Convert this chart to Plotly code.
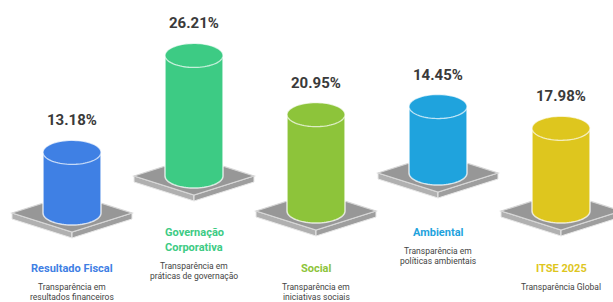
import numpy as np
import plotly.graph_objects as go

# ---- data ----
categories = ["Resultado Fiscal", "Governação|Corporativa", "Social", "Ambiental", "ITSE 2025"]
values = [13.18, 26.21, 20.95, 14.45, 17.98]
subtitles = [
    "Transparência em|resultados financeiros",
    "Transparência em|práticas de governação",
    "Transparência em|iniciativas sociais",
    "Transparência em|políticas ambientais",
    "Transparência Global",
]
colors = ["#3F80E4", "#3DCB84", "#8DC43A", "#1FA3DD", "#DEC61E"]

# ---- layout (positions only) ----
W, H = 613, 302
cx_list = [72, 194, 316, 438, 561]
base_list = [213, 176, 211, 173, 211]
title_y = [268, 232, 268, 232, 268]
PX_PER_UNIT = 4.6
RX, RY = 29, 12
PW, PH, PT = 60, 19, 6

fig = go.Figure()
shapes = []
annotations = []


def poly(pts):
    return "M " + " L ".join(f"{x:.2f},{y:.2f}" for x, y in pts) + " Z"


def ellipse(cx, cy, n=80):
    t = np.linspace(0, 2 * np.pi, n)
    return list(zip(cx + RX * np.cos(t), cy + RY * np.sin(t)))


for i, (cat, v, sub, col) in enumerate(zip(categories, values, subtitles, colors)):
    cx, cy = cx_list[i], base_list[i]
    # platform
    top = [(cx - PW, cy), (cx, cy - PH), (cx + PW, cy), (cx, cy + PH)]
    left = [(cx - PW, cy), (cx, cy + PH), (cx, cy + PH + PT), (cx - PW, cy + PT)]
    right = [(cx, cy + PH), (cx + PW, cy), (cx + PW, cy + PT), (cx, cy + PH + PT)]
    shapes.append(dict(type="path", path=poly(left), fillcolor="#b0b0b0",
                       line=dict(color="#e8e8e8", width=1), layer="above"))
    shapes.append(dict(type="path", path=poly(right), fillcolor="#9e9e9e",
                       line=dict(color="#e8e8e8", width=1), layer="above"))
    shapes.append(dict(type="path", path=poly(top), fillcolor="#979797",
                       line=dict(color="#d6d6d6", width=1.2), layer="above"))
    # cylinder (height from value)
    ytop = cy - v * PX_PER_UNIT
    t = np.linspace(0, np.pi, 40)
    body = [(cx + RX, ytop)] + list(zip(cx + RX * np.cos(t), cy + RY * np.sin(t))) + [(cx - RX, ytop)]
    shapes.append(dict(type="path", path=poly(body), fillcolor=col,
                       line=dict(color="rgba(255,255,255,0.75)", width=1.5), layer="above"))
    shapes.append(dict(type="path", path=poly(ellipse(cx, ytop)), fillcolor=col,
                       line=dict(color="rgba(255,255,255,0.7)", width=1.3), layer="above"))
    # value label
    annotations.append(dict(x=cx, y=ytop - 32, text=f"<b>{v:.2f}%</b>", showarrow=False,
                            font=dict(family="Roboto", size=15, color="#3a3a3a"),
                            xanchor="center", yanchor="middle"))
    # title
    tlines = cat.split("|")
    for k, tl in enumerate(tlines):
        annotations.append(dict(x=cx, y=title_y[i] + k * 15, text=f"<b>{tl}</b>", showarrow=False,
                                font=dict(family="Roboto", size=11, color=col),
                                xanchor="center", yanchor="middle"))
    sy = title_y[i] + (len(tlines) - 1) * 15 + 18.5
    for k, s in enumerate(sub.split("|")):
        annotations.append(dict(x=cx, y=sy + k * 10.3, text=s, showarrow=False,
                                font=dict(family="Roboto", size=8.5, color="#444444"),
                                xanchor="center", yanchor="middle"))

fig.update_layout(
    width=W, height=H, margin=dict(l=0, r=0, t=0, b=0),
    paper_bgcolor="white", plot_bgcolor="white",
    xaxis=dict(range=[0, W], visible=False, fixedrange=True),
    yaxis=dict(range=[H, 0], visible=False, fixedrange=True),
    shapes=shapes, annotations=annotations, showlegend=False,
)
fig.write_html("out.html", config={"displayModeBar": False},
               post_script="document.body.style.margin='0';document.body.style.overflow='hidden';")
